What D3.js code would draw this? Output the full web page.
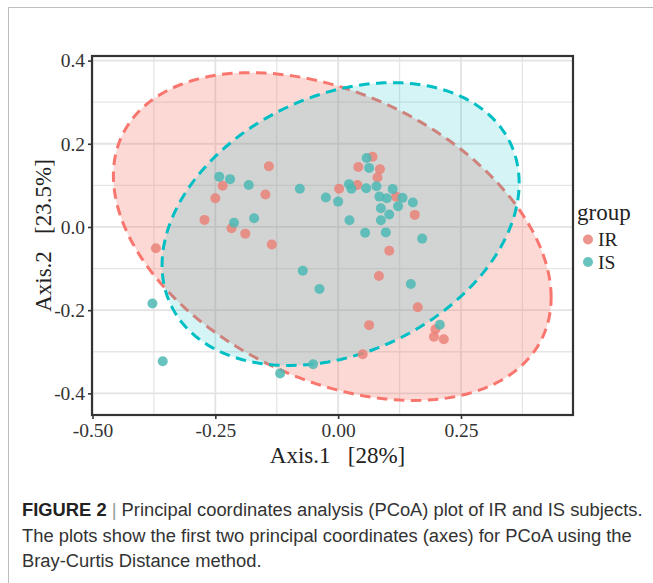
<!DOCTYPE html>
<html>
<head>
<meta charset="utf-8">
<title>PCoA plot</title>
<script src="https://d3js.org/d3.v7.min.js"></script>
<style>
  body { margin: 0; background: #fff; }
  svg text { font-family: "Liberation Serif", "DejaVu Serif", serif; }
  .cap { font-family: "Liberation Sans", Arial, sans-serif; }
</style>
</head>
<body>
<svg id="chart" width="653" height="583"></svg>
<script>
// groups and colours
const groups = ["IR", "IS"];
const groupColors = ["#F8766D", "#00BFC4"];
const pointColors = ["#EA8279", "#4DB8B4"];

// points [Axis.1, Axis.2]
const irPoints = [
  [0.070, 0.169], [0.041, 0.144], [0.085, 0.139], [0.080, 0.119], [0.002, 0.092],
  [0.039, 0.101], [0.118, 0.073], [0.156, 0.029], [-0.141, 0.146], [-0.235, 0.099],
  [-0.148, 0.078], [-0.250, 0.069], [-0.272, 0.017], [-0.217, -0.003], [-0.189, -0.016],
  [-0.135, -0.042], [-0.371, -0.051], [0.104, -0.057], [0.083, -0.118], [0.162, -0.193],
  [0.063, -0.236], [0.198, -0.246], [0.195, -0.264], [0.215, -0.270], [0.050, -0.306]
];
const isPoints = [
  [0.058, 0.166], [0.063, 0.142], [-0.078, 0.092], [-0.025, 0.071], [0.000, 0.061],
  [0.022, 0.103], [0.027, 0.092], [0.057, 0.093], [0.078, 0.098], [0.111, 0.091],
  [0.084, 0.073], [0.099, 0.069], [0.131, 0.070], [0.122, 0.050], [0.152, 0.059],
  [0.087, 0.045], [0.104, 0.030], [0.023, 0.016], [0.087, 0.016], [0.055, -0.014],
  [0.097, -0.013], [0.171, -0.028], [-0.242, 0.121], [-0.220, 0.115], [-0.182, 0.101],
  [-0.212, 0.010], [-0.171, 0.021], [-0.072, -0.105], [-0.038, -0.149], [-0.378, -0.184],
  [-0.357, -0.323], [-0.118, -0.352], [-0.051, -0.330], [0.148, -0.137], [0.207, -0.235]
];

// 95% ellipses: centre, half extents and correlation
const irEllipse = { cx: -0.012, cy: -0.023, sx: 0.4455, sy: 0.394, r: -0.372 };
const isEllipse = { cx: 0.005, cy: 0.007, sx: 0.3634, sy: 0.340, r: 0.290 };

const xTicks = [-0.50, -0.25, 0.00, 0.25];
const yTicks = [-0.4, -0.2, 0.0, 0.2, 0.4];
const xMinor = [-0.375, -0.125, 0.125, 0.375];
const yMinor = [-0.3, -0.1, 0.1, 0.3];

const svg = d3.select("#chart");

// outer figure frame
svg.append("rect").attr("x", 8.5).attr("y", 7.5).attr("width", 700).attr("height", 600)
  .attr("fill", "none").attr("stroke", "#bdbdbd").attr("stroke-width", 1);

const pL = 92, pR = 573, pT = 56, pB = 415;
const x = d3.scaleLinear([-0.501, 0.478], [pL, pR]);
const y = d3.scaleLinear([-0.452, 0.411], [pB, pT]);

const panel = svg.append("g");
panel.append("defs").append("clipPath").attr("id", "clip")
  .append("rect").attr("x", pL).attr("y", pT).attr("width", pR - pL).attr("height", pB - pT);

// grid
const grid = panel.append("g");
grid.selectAll(".vmin").data(xMinor).join("line").attr("class", "vmin")
  .attr("x1", d => x(d)).attr("x2", d => x(d)).attr("y1", pT).attr("y2", pB)
  .attr("stroke", "#e6e6e6").attr("stroke-width", 1.3);
grid.selectAll(".hmin").data(yMinor).join("line").attr("class", "hmin")
  .attr("x1", pL).attr("x2", pR).attr("y1", d => y(d)).attr("y2", d => y(d))
  .attr("stroke", "#e6e6e6").attr("stroke-width", 1.3);
grid.selectAll(".vmaj").data(xTicks).join("line").attr("class", "vmaj")
  .attr("x1", d => x(d)).attr("x2", d => x(d)).attr("y1", pT).attr("y2", pB)
  .attr("stroke", "#e3e3e3").attr("stroke-width", 1.8);
grid.selectAll(".hmaj").data(yTicks).join("line").attr("class", "hmaj")
  .attr("x1", pL).attr("x2", pR).attr("y1", d => y(d)).attr("y2", d => y(d))
  .attr("stroke", "#e3e3e3").attr("stroke-width", 1.8);

// ellipses
function ellipsePts(e) {
  const k = Math.sqrt(1 - e.r * e.r);
  return d3.range(0, 361, 2).map(a => {
    const t = a * Math.PI / 180;
    return [e.cx + e.sx * Math.cos(t), e.cy + e.sy * (e.r * Math.cos(t) + k * Math.sin(t))];
  });
}
const line = d3.line().x(d => x(d[0])).y(d => y(d[1])).curve(d3.curveLinearClosed);
const ell = panel.append("g").attr("clip-path", "url(#clip)");
const fillAlpha = [0.28, 0.17];
[irEllipse, isEllipse].forEach((e, i) => {
  ell.append("path").attr("d", line(ellipsePts(e)))
    .attr("fill", groupColors[i]).attr("fill-opacity", fillAlpha[i])
    .attr("stroke", groupColors[i]).attr("stroke-width", 3)
    .attr("stroke-dasharray", "10.5,6.5");
});

// points
const pts = panel.append("g");
[irPoints, isPoints].forEach((p, i) => {
  pts.selectAll(".p" + i).data(p).join("circle").attr("class", "p" + i)
    .attr("cx", d => x(d[0])).attr("cy", d => y(d[1])).attr("r", 5)
    .attr("fill", pointColors[i]).attr("fill-opacity", 0.85);
});

// panel border
panel.append("rect").attr("x", pL).attr("y", pT).attr("width", pR - pL).attr("height", pB - pT)
  .attr("fill", "none").attr("stroke", "#333").attr("stroke-width", 2.2);

// axes (plain hyphen for minus, like the original)
const fx = d => d3.format(".2f")(d).replace("\u2212", "-");
const fy = d => d3.format(".1f")(d).replace("\u2212", "-");
const xAxis = svg.append("g").attr("transform", `translate(0,${pB})`)
  .call(d3.axisBottom(x).tickValues(xTicks).tickFormat(fx).tickSizeOuter(0).tickSize(4).tickPadding(3));
const yAxis = svg.append("g").attr("transform", `translate(${pL},0)`)
  .call(d3.axisLeft(y).tickValues(yTicks).tickFormat(fy).tickSizeOuter(0).tickSize(4).tickPadding(3));
[xAxis, yAxis].forEach(a => {
  a.select(".domain").remove();
  a.selectAll(".tick line").attr("stroke", "#333").attr("stroke-width", 1.6);
  a.selectAll(".tick text").attr("fill", "#333").attr("font-size", 19.5)
    .attr("font-family", "Liberation Serif, serif");
});
xAxis.selectAll(".tick text").attr("dy", "0.75em");

// axis titles
svg.append("text").attr("x", (pL + pR) / 2 + 5).attr("y", 463).attr("text-anchor", "middle")
  .attr("font-size", 23).attr("fill", "#222").style("white-space", "pre").text("Axis.1   [28%]");
svg.append("text").attr("transform", `translate(51,${(pT + pB) / 2}) rotate(-90)`)
  .attr("text-anchor", "middle").attr("font-size", 23).attr("fill", "#222")
  .style("white-space", "pre").text("Axis.2   [23.5%]");

// legend
const leg = svg.append("g");
leg.append("text").attr("x", 577).attr("y", 220).attr("font-size", 23).attr("fill", "#222").text("group");
groups.forEach((g, i) => {
  leg.append("circle").attr("cx", 588).attr("cy", 239.5 + i * 22.5).attr("r", 5)
    .attr("fill", pointColors[i]).attr("fill-opacity", 0.85);
  leg.append("text").attr("x", 598).attr("y", 246 + i * 22.5).attr("font-size", 19.5).attr("fill", "#222").text(g);
});

// caption
const capLines = [
  "Principal coordinates analysis (PCoA) plot of IR and IS subjects.",
  "The plots show the first two principal coordinates (axes) for PCoA using the",
  "Bray-Curtis Distance method."
];
const cap = svg.append("g").attr("class", "cap");
const l1 = cap.append("text").attr("class", "cap").attr("x", 22).attr("y", 516).attr("font-size", 16).attr("fill", "#333");
l1.append("tspan").attr("font-weight", "bold").attr("fill", "#222").text("FIGURE 2");
l1.append("tspan").attr("fill", "#999").text(" | ");
l1.append("tspan").text(capLines[0]);
cap.append("text").attr("class", "cap").attr("x", 22).attr("y", 542).attr("font-size", 16).attr("fill", "#333").text(capLines[1]);
cap.append("text").attr("class", "cap").attr("x", 22).attr("y", 567).attr("font-size", 16).attr("fill", "#333").text(capLines[2]);
// fit caption width to the figure column
const w1 = l1.node().getComputedTextLength();
const fs = 16 * 621 / w1;
cap.selectAll("text").attr("font-size", fs);
</script>
</body>
</html>
